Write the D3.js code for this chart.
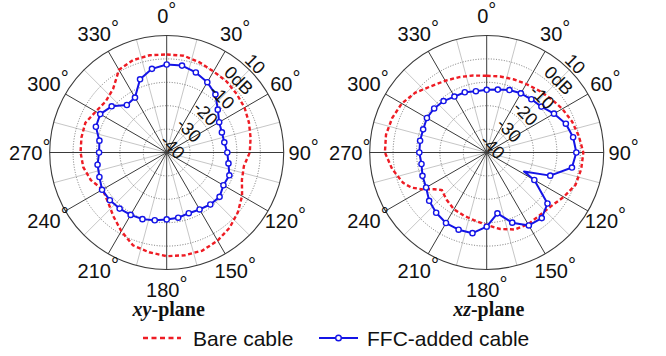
<!DOCTYPE html>
<html>
<head>
<meta charset="utf-8">
<script src="https://cdn.jsdelivr.net/npm/d3@7/dist/d3.min.js"></script>
<style>
  body { margin: 0; background: #fff; }
  svg { display: block; }
</style>
</head>
<body>
<svg id="chart" width="666" height="356"></svg>
<script>
// Angular grid and radial (dB) grid
const angleTicks = d3.range(0, 360, 30);
const minorSpokes = d3.range(15, 360, 30);
const ringTicks = [-40, -30, -20, -10, 0, 10];
const ringLabels = ["-40", "-30", "-20", "-10", "0dB", "10"];
const planeNames = ["xy", "xz"];

// xy-plane, bare cable (dB vs. degrees)
const xyBareAngles = [0,10,20,30,40,50,60,70,80,90,100,110,120,130,140,150,160,170,180,190,200,210,220,230,240,250,260,270,280,290,300,310,320,330,340,350];
const xyBareDb     = [1.9,2.0,1.0,0.0,-0.3,-1.0,-1.6,-2.6,-3.6,-4.5,-6.5,-5.8,-2.8,-0.3,1.9,3.5,4.6,4.6,4.3,3.3,2.2,-1.2,-4.5,-7.2,-8.4,-5.5,-3.8,-3.2,-3.0,-3.0,-5.0,-6.0,-4.4,0.8,2.0,2.2];

// xy-plane, FFC-added cable
const xyFfcAngles = [0,10,20,30,40,50,60,70,80,90,100,110,120,130,140,150,160,170,180,190,200,210,220,230,240,250,260,270,280,290,300,310,320,330,340,350];
const xyFfcDb     = [-2.4,-2.3,-3.6,-5.3,-7.6,-11.5,-14.1,-14.9,-15.0,-14.1,-13.2,-11.5,-12.0,-10.5,-11.0,-11.9,-12.4,-11.7,-11.4,-10.6,-9.7,-9.2,-8.7,-8.3,-8.1,-9.4,-10.0,-11.1,-10.8,-7.8,-7.2,-9.3,-13.5,-12.9,-6.7,-3.7];

// xz-plane, bare cable
const xzBareAngles = [0,10,20,30,40,50,60,70,80,90,100,110,120,130,140,150,160,170,180,190,200,210,220,225,230,235,240,245,250,260,270,280,290,300,310,320,330,340,350];
const xzBareDb     = [-7.2,-7.0,-6.7,-6.2,-5.4,-4.2,-2.7,-1.2,0.0,1.3,1.0,0.4,-2.0,-4.2,-4.9,-4.6,-5.0,-6.8,-9.0,-10.5,-11.3,-12.0,-13.5,-14.3,-15.0,-12.6,-8.5,-4.5,-2.0,1.0,3.5,3.7,3.0,1.9,-0.2,-3.0,-4.6,-5.7,-6.6];

// xz-plane, FFC-added cable (117° is the sharp notch between markers)
const xzFfcAngles = [0,10,20,30,40,50,60,70,80,90,100,110,117,120,130,140,150,160,170,180,190,200,210,220,230,240,250,260,270,280,290,300,310,320,330,340,350];
const xzFfcDb     = [-13.2,-12.7,-11.6,-10.8,-10.3,-9.5,-6.8,-4.0,-2.5,-1.7,-3.0,-11.1,-22.1,-16.5,-6.1,-3.4,-4.0,-8.1,-13.6,-8.3,-5.0,-4.9,-5.2,-6.4,-7.9,-10.1,-10.8,-11.7,-11.2,-11.1,-11.1,-10.5,-10.7,-11.3,-12.4,-12.6,-13.4];

const legendLabels = ["Bare cable", "FFC-added cable"];
const bareColor = "#ee1c24";
const ffcColor = "#1414e6";

const svg = d3.select("#chart");
const R = 117;
const centers = [[166.7, 152.5], [486.7, 152.5]];
const rScale = d3.scaleLinear().domain([-40, 10]).range([0, R]);
const rad = d => d * Math.PI / 180;
const sansFont = "'Liberation Sans', Arial, sans-serif";

const panels = [
  { name: planeNames[0], bare: [xyBareAngles, xyBareDb], ffc: [xyFfcAngles, xyFfcDb] },
  { name: planeNames[1], bare: [xzBareAngles, xzBareDb], ffc: [xzFfcAngles, xzFfcDb] }
];

const radialLine = d3.lineRadial()
  .angle(d => rad(d[0]))
  .radius(d => rScale(d[1]))
  .curve(d3.curveLinearClosed);

panels.forEach((p, i) => {
  const g = svg.append("g").attr("transform", `translate(${centers[i][0]},${centers[i][1]})`);

  // light spokes every 15 degrees (off the 30-degree grid)
  g.selectAll(".minor").data(minorSpokes).join("line")
    .attr("x1", 0).attr("y1", 0)
    .attr("x2", a => d3.pointRadial(rad(a), R)[0])
    .attr("y2", a => d3.pointRadial(rad(a), R)[1])
    .attr("stroke", "#b8b8b8").attr("stroke-width", 0.8);

  // dotted rings
  g.selectAll(".ring").data(ringTicks.slice(1, -1)).join("circle")
    .attr("r", v => rScale(v))
    .attr("fill", "none").attr("stroke", "#555")
    .attr("stroke-width", 0.8).attr("stroke-dasharray", "1,1.6");

  // major spokes every 30 degrees
  g.selectAll(".major").data(angleTicks).join("line")
    .attr("x1", 0).attr("y1", 0)
    .attr("x2", a => d3.pointRadial(rad(a), R)[0])
    .attr("y2", a => d3.pointRadial(rad(a), R)[1])
    .attr("stroke", "#3a3a3a").attr("stroke-width", 1);

  // outer ring
  g.append("circle").attr("r", rScale(10))
    .attr("fill", "none").attr("stroke", "#3a3a3a").attr("stroke-width", 1.1);

  // angle labels
  const lab = g.selectAll(".alab").data(angleTicks).join("text")
    .attr("x", a => d3.pointRadial(rad(a), 137)[0])
    .attr("y", a => d3.pointRadial(rad(a), 137)[1] + 7)
    .attr("text-anchor", "middle")
    .attr("font-family", sansFont).attr("font-size", 20).attr("fill", "#111");
  lab.append("tspan").text(a => a);
  lab.append("tspan").attr("dy", -6).attr("font-size", 20).text("°");

  // series
  const bare = d3.zip(p.bare[0], p.bare[1]);
  const ffc = d3.zip(p.ffc[0], p.ffc[1]);

  g.append("path").datum(bare).attr("d", radialLine)
    .attr("fill", "none").attr("stroke", bareColor)
    .attr("stroke-width", 2.4).attr("stroke-dasharray", "4,2.6");

  g.append("path").datum(ffc).attr("d", radialLine)
    .attr("fill", "none").attr("stroke", ffcColor)
    .attr("stroke-width", 2).attr("stroke-linejoin", "round");

  g.selectAll(".mk").data(ffc.filter(d => d[0] % 10 === 0)).join("circle")
    .attr("cx", d => d3.pointRadial(rad(d[0]), rScale(d[1]))[0])
    .attr("cy", d => d3.pointRadial(rad(d[0]), rScale(d[1]))[1])
    .attr("r", 2.6)
    .attr("fill", "#fff").attr("stroke", ffcColor).attr("stroke-width", 1.4);

  // radial dB labels, drawn along the 45-degree direction
  g.selectAll(".rlab").data(ringTicks).join("text")
    .attr("transform", (v, k) => {
      const pt = d3.pointRadial(rad(45), rScale(v) + 2);
      return `translate(${pt[0]},${pt[1]}) rotate(45)`;
    })
    .attr("text-anchor", "middle")
    .attr("font-family", sansFont).attr("font-size", 18).attr("fill", "#111")
    .text((v, k) => ringLabels[k]);

  // plane caption
  const cap = svg.append("text")
    .attr("x", centers[i][0] + 2).attr("y", 316)
    .attr("text-anchor", "middle")
    .attr("font-family", "'Liberation Serif', 'Times New Roman', serif")
    .attr("font-size", 20).attr("font-weight", "bold").attr("fill", "#111");
  cap.append("tspan").attr("font-style", "italic").text(p.name);
  cap.append("tspan").text("-plane");
});

// legend
const leg = svg.append("g");
leg.append("line").attr("x1", 143).attr("x2", 181).attr("y1", 338).attr("y2", 338)
  .attr("stroke", bareColor).attr("stroke-width", 2.4).attr("stroke-dasharray", "5,3.5");
leg.append("text").attr("x", 193).attr("y", 345.5)
  .attr("font-family", sansFont).attr("font-size", 21).attr("fill", "#111")
  .text(legendLabels[0]);
leg.append("line").attr("x1", 319).attr("x2", 358).attr("y1", 338).attr("y2", 338)
  .attr("stroke", ffcColor).attr("stroke-width", 2);
leg.append("circle").attr("cx", 338.5).attr("cy", 338).attr("r", 2.8)
  .attr("fill", "#fff").attr("stroke", ffcColor).attr("stroke-width", 1.4);
leg.append("text").attr("x", 367).attr("y", 345.5)
  .attr("font-family", sansFont).attr("font-size", 21).attr("fill", "#111")
  .text(legendLabels[1]);
</script>
</body>
</html>
